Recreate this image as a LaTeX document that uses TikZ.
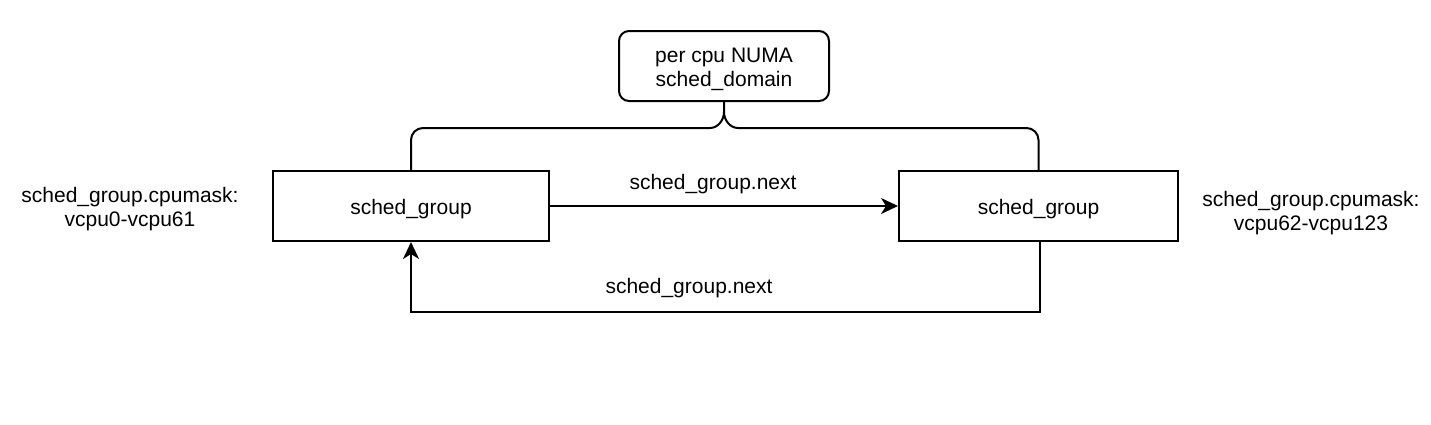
\documentclass[tikz,border=0pt]{standalone}
\usepackage{fontspec}
\setmainfont{Liberation Sans}
\usetikzlibrary{arrows.meta}
\begin{document}
\begin{tikzpicture}[x=1pt,y=-1pt,
  every node/.style={font=\fontsize{21}{24}\selectfont, inner sep=0pt},
  box/.style={draw, line width=2pt, fill=white, minimum height=70pt},
  lbl/.style={align=center},
  conn/.style={line width=2pt},
  arr/.style={conn, -{Stealth[length=17pt,width=16pt,inset=5pt]}}]
\useasboundingbox (0,0) rectangle (1431,424);
\node[box, rounded corners=10pt, minimum width=210pt] (dom) at (724,66) {};
\node[box, minimum width=276pt] (g1) at (411,206) {};
\node[box, minimum width=279pt] (g2) at (1038.5,206) {};
\node[lbl] (tdom) at ([yshift=-3pt]dom.center) {per cpu NUMA\\sched\_domain};
\node[lbl] (tg1) at ([yshift=-3pt]g1.center) {sched\_group};
\node[lbl] (tg2) at ([yshift=-3pt]g2.center) {sched\_group};
\node[lbl] (m1) at (130,209) {sched\_group.cpumask:\\vcpu0-vcpu61};
\node[lbl] (m2) at (1311,213) {sched\_group.cpumask:\\vcpu62-vcpu123};
\node[lbl] (n1) at (713,184) {sched\_group.next};
\node[lbl] (n2) at (689,288) {sched\_group.next};
% brace
\draw[conn] (g1.north) -- (g1.north |- 0,140) arc[start angle=180, end angle=90, radius=12pt] -- (710,128)
  .. controls (718,128) and (dom.south |- 0,120) .. (dom.south |- 0,112) -- (dom.south);
\draw[conn] (g2.north) -- (g2.north |- 0,140) arc[start angle=0, end angle=90, radius=12pt] -- (738,128)
  .. controls (730,128) and (dom.south |- 0,120) .. (dom.south |- 0,112);
\draw[arr] (g1.east) -- (g2.west);
\draw[arr] ([xshift=1.5pt]g2.south) -- ++(0,70) -| (g1.south);
\end{tikzpicture}
\end{document}
